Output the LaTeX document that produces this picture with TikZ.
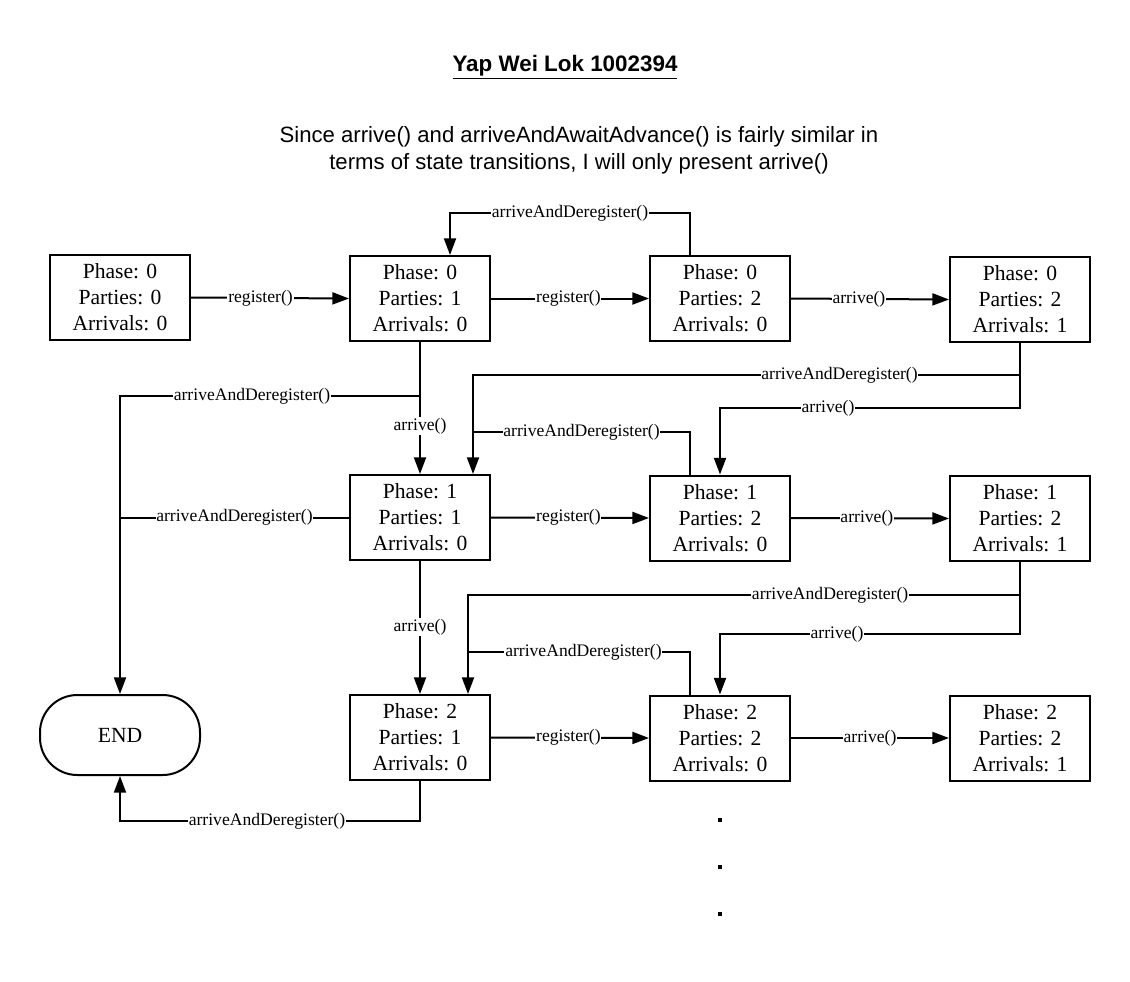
\documentclass[tikz,border=0pt]{standalone}
\usepackage{fontspec}
\setmainfont{Liberation Serif}
\newfontfamily\headfont{Liberation Sans}
\usetikzlibrary{arrows.meta,calc,positioning}
\tikzset{
  state/.style={draw,line width=1.5pt,minimum width=105pt,minimum height=63.75pt,inner sep=0pt,align=center,font=\fontsize{16.2}{19.6}\selectfont},
  endbox/.style={draw,line width=1.5pt,rounded corners=28pt,minimum width=120pt,minimum height=60pt,font=\fontsize{16.2}{19}\selectfont},
  conn/.style={line width=1.5pt},
  arr/.style={conn,-{Triangle[length=12.5pt,width=9pt]}},
  lbl/.style={fill=white,inner sep=0.6pt,font=\fontsize{13.2}{15}\selectfont},
}
\begin{document}
\begin{tikzpicture}[x=0.75pt,y=-0.75pt]
\useasboundingbox (0,0) rectangle (1130,981);
\fill[white] (0,0) rectangle (1130,981);

\node[font=\headfont\bfseries\fontsize{16.8}{20}\selectfont] (title) at (565,67) {\underline{Yap Wei Lok 1002394}};
\node[font=\headfont\fontsize{16.6}{20.3}\selectfont,align=center] (sub) at (579,150) {Since arrive() and arriveAndAwaitAdvance() is fairly similar in\\terms of state transitions, I will only present arrive()};

% row 1
\node[state] (A) at (120,297.5) {Phase: 0\\Parties: 0\\Arrivals: 0};
\node[state] (B) at (420,298.5) {Phase: 0\\Parties: 1\\Arrivals: 0};
\node[state] (C) at (720,298.5) {Phase: 0\\Parties: 2\\Arrivals: 0};
\node[state] (D) at (1020,299.5) {Phase: 0\\Parties: 2\\Arrivals: 1};
% row 2
\node[state] (E) at (420,517.5) {Phase: 1\\Parties: 1\\Arrivals: 0};
\node[state] (F) at (720,518) {Phase: 1\\Parties: 2\\Arrivals: 0};
\node[state] (G) at (1020,518.5) {Phase: 1\\Parties: 2\\Arrivals: 1};
% row 3
\node[state] (H) at (420,737.5) {Phase: 2\\Parties: 1\\Arrivals: 0};
\node[state] (I) at (720,738) {Phase: 2\\Parties: 2\\Arrivals: 0};
\node[state] (J) at (1020,738) {Phase: 2\\Parties: 2\\Arrivals: 1};
\node[endbox] (END) at (120,735) {END};

% horizontal transitions
\draw[arr] (A.east) -- node[lbl,pos=0.44]{register()} (B.west);
\draw[arr] (B.east) -- node[lbl,pos=0.49]{register()} (C.west);
\draw[arr] (C.east) -- node[lbl,pos=0.43]{arrive()} (D.west);
\draw[arr] (E.east) -- node[lbl,pos=0.49]{register()} (F.west);
\draw[arr] (F.east) -- node[lbl,pos=0.48]{arrive()} (G.west);
\draw[arr] (H.east) -- node[lbl,pos=0.49]{register()} (I.west);
\draw[arr] (I.east) -- node[lbl,pos=0.5]{arrive()} (J.west);

% C -> B deregister
\draw[arr] ($(C.north)+(-30,0)$) -- ++(0,-42) -| node[lbl,pos=0.25]{arriveAndDeregister()} ($(B.north)+(30,0)$);

% B -> E arrive, B -> END deregister
\draw[arr] (B.south) -- node[lbl,pos=0.635]{arrive()} (E.north);
\draw[arr] ($(B.south)+(0,54)$) -| node[lbl,pos=0.28]{arriveAndDeregister()} (END.north);
\coordinate (Ejoin) at (E.west -| END.north);
\draw[conn] (E.west) -- node[lbl,pos=0.5]{arriveAndDeregister()} (Ejoin);

% D -> F arrive, D -> E deregister
\draw[arr] (D.south) -- ++(0,65) -| node[lbl,pos=0.32]{arrive()} (F.north);
\draw[arr] ($(D.south)+(0,32)$) -| node[lbl,pos=0.165]{arriveAndDeregister()} ($(E.north)+(53,0)$);
\coordinate (Fjoin) at ($(E.north)+(53,-42)$);
\draw[conn] ($(F.north)+(-30,0)$) |- node[lbl,pos=0.75]{arriveAndDeregister()} (Fjoin);

% E -> H arrive
\draw[arr] (E.south) -- node[lbl,pos=0.495]{arrive()} (H.north);

% G -> I arrive, G -> H deregister
\draw[arr] (G.south) -- ++(0,72) -| node[lbl,pos=0.305]{arrive()} (I.north);
\draw[arr] ($(G.south)+(0,33)$) -| node[lbl,pos=0.172]{arriveAndDeregister()} ($(H.north)+(48,0)$);
\coordinate (Ijoin) at ($(H.north)+(48,-42)$);
\draw[conn] ($(I.north)+(-30,0)$) |- node[lbl,pos=0.74]{arriveAndDeregister()} (Ijoin);

% H -> END deregister
\draw[arr] (H.south) -- ++(0,40) -| node[lbl,pos=0.255]{arriveAndDeregister()} (END.south);

% continuation dots
\fill (I.south) ++(-2,36) rectangle ++(4,4) coordinate (d1);
\fill (I.south) ++(-2,83) rectangle ++(4,4) coordinate (d2);
\fill (I.south) ++(-2,130) rectangle ++(4,4) coordinate (d3);
\end{tikzpicture}
\end{document}
